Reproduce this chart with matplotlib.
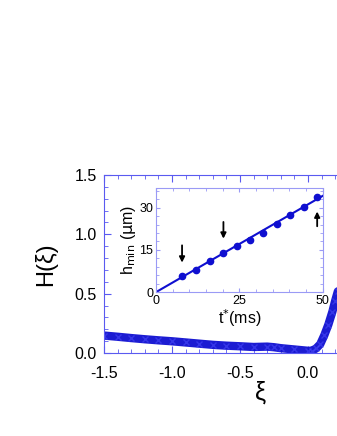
import matplotlib
matplotlib.use("Agg")
import matplotlib.pyplot as plt
from matplotlib.ticker import MultipleLocator, FormatStrFormatter

plt.rcParams['font.family'] = ['Liberation Sans', 'DejaVu Sans']

# main profile H(xi)
xi = [-1.5, -1.4, -1.3, -1.2, -1.1, -1.0, -0.9, -0.8, -0.7, -0.6, -0.5,
      -0.4, -0.3, -0.25, -0.2, -0.1, 0.0, 0.03, 0.06, 0.09, 0.12, 0.15,
      0.18, 0.2, 0.22]
H = [0.148, 0.138, 0.127, 0.117, 0.108, 0.100, 0.090, 0.080, 0.070, 0.063,
     0.058, 0.052, 0.055, 0.050, 0.042, 0.031, 0.020, 0.020, 0.040, 0.075,
     0.150, 0.240, 0.350, 0.440, 0.52]

# inset h_min vs t*
t_pts = [7.8, 12.1, 16.2, 20.2, 24.2, 28.2, 32.2, 36.2, 40.3, 44.3, 48.3]
h_pts = [5.6, 8.0, 11.2, 13.9, 16.5, 18.5, 20.9, 24.1, 27.3, 30.2, 33.9]
fit_t = [0, 50]
fit_h = [0, 34.2]

blue = '#0f0fd0'
spine = '#5a5af0'

fig = plt.figure(figsize=(3.37, 4.36), dpi=100)
ax = fig.add_axes([0.3086, 0.190, 0.928, 0.409])

ax.plot(xi, H, color=blue, lw=6, solid_capstyle='round', alpha=0.95)
ax.plot(xi, H, color='#5050ff', lw=0, marker='x', ms=4, alpha=0.5)
ax.set_xlim(-1.5, 0.8)
ax.set_ylim(0, 1.5)
ax.set_xticks([-1.5, -1.0, -0.5, 0.0])
ax.xaxis.set_minor_locator(MultipleLocator(0.1))
ax.yaxis.set_major_locator(MultipleLocator(0.5))
ax.yaxis.set_minor_locator(MultipleLocator(0.1))
ax.xaxis.set_major_formatter(FormatStrFormatter('%.1f'))
ax.yaxis.set_major_formatter(FormatStrFormatter('%.1f'))
ax.tick_params(which='both', direction='in', top=True, right=True,
               color=spine, labelsize=11.5)
ax.tick_params(axis='x', pad=9)
ax.tick_params(axis='y', pad=5)
ax.tick_params(which='major', length=5)
ax.tick_params(which='minor', length=3)
for s in ax.spines.values():
    s.set_color(spine)
ax.set_xlabel('ξ', fontsize=18, labelpad=0)
ax.set_ylabel('H(ξ)', fontsize=17, labelpad=13)

# inset
ins = fig.add_axes([0.463, 0.330, 0.495, 0.239])
ins.plot(fit_t, fit_h, color=blue, lw=1.5)
ins.plot(t_pts, h_pts, 'o', color=blue, ms=4.5)
ins.set_xlim(0, 50)
ins.set_ylim(0, 37)
ins.xaxis.set_major_locator(MultipleLocator(25))
ins.xaxis.set_minor_locator(MultipleLocator(5))
ins.yaxis.set_major_locator(MultipleLocator(15))
ins.yaxis.set_minor_locator(MultipleLocator(3))
ins.tick_params(which='both', direction='in', top=True, right=True,
                color='#9a9af5', labelsize=9, pad=2)
ins.tick_params(which='major', length=3)
ins.tick_params(which='minor', length=2)
for s in ins.spines.values():
    s.set_color('#9a9af5')
    s.set_linestyle((0, (1, 1)))
ins.set_xlabel('t$^{*}$(ms)', fontsize=11.5, labelpad=0)
ins.set_ylabel('h$_{\\mathrm{min}}$ ($\\mathrm{\\mu}$m)', fontsize=11.5, labelpad=1)

for x0, y0, y1 in [(7.8, 17.6, 9.5), (20.2, 25.9, 18.0), (48.3, 22.4, 29.6)]:
    ins.annotate('', xy=(x0, y1), xytext=(x0, y0),
                 arrowprops=dict(arrowstyle='-|>', color='black', lw=1.3,
                                 mutation_scale=8))

fig.savefig('out.png', dpi=100)
